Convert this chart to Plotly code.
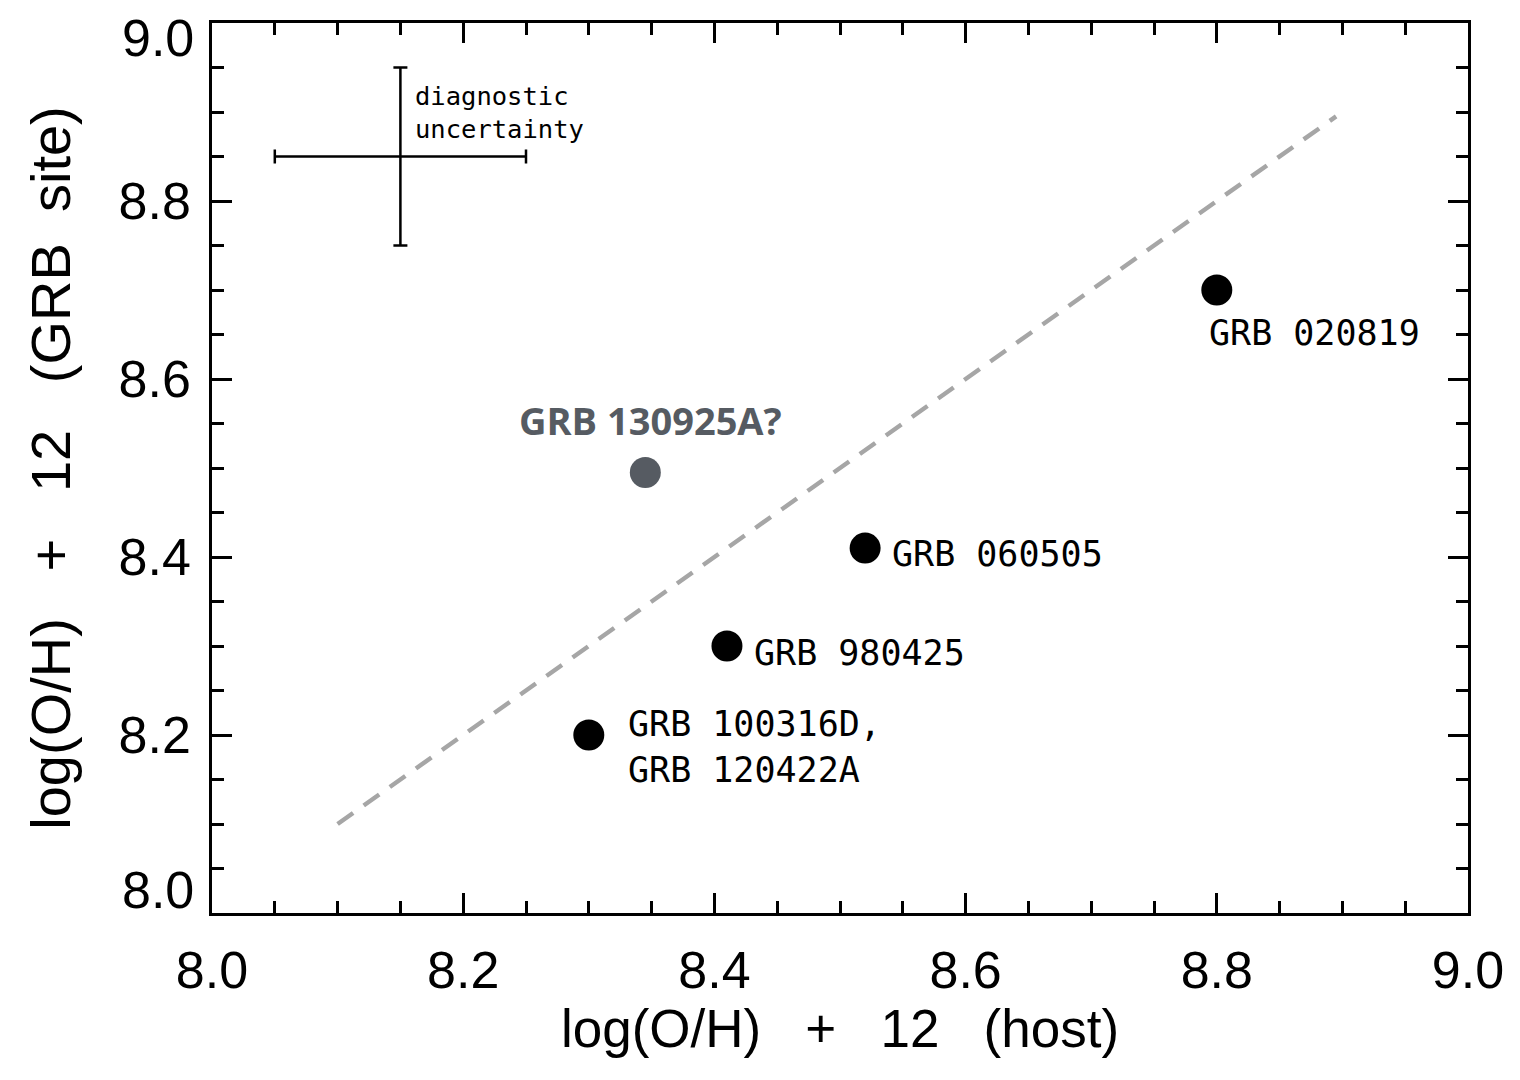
import plotly.graph_objects as go

# measured GRBs: host vs. GRB-site metallicity
grb_names = ["GRB 020819", "GRB 060505", "GRB 980425", "GRB 100316D,<br>GRB 120422A"]
oh_host = [8.80, 8.52, 8.41, 8.30]
oh_site = [8.70, 8.41, 8.30, 8.20]

# candidate
cand_name = "GRB 130925A?"
cand_host = [8.345]
cand_site = [8.495]

# 1:1 relation
one_to_one = [8.10, 8.895]

# diagnostic uncertainty cross
diag_x = [8.15]
diag_y = [8.85]
diag_err = [0.1]

tick_vals = [8.0, 8.2, 8.4, 8.6, 8.8, 9.0]
tick_text = ["8.0", "8.2", "8.4", "8.6", "8.8", "9.0"]

AX_FONT = "Liberation Sans"
LBL_FONT = "DejaVu Sans Mono"

fig = go.Figure()

fig.add_trace(go.Scatter(
    x=one_to_one, y=one_to_one, mode="lines",
    line=dict(color="#a6a6a6", width=4.5, dash="19px,13px"),
    hoverinfo="skip"))

fig.add_trace(go.Scatter(
    x=diag_x, y=diag_y, mode="markers",
    marker=dict(size=1, color="black", opacity=0),
    error_x=dict(type="data", array=diag_err, color="black", thickness=2.5, width=7),
    error_y=dict(type="data", array=diag_err, color="black", thickness=2.5, width=7)))

fig.add_trace(go.Scatter(
    x=oh_host, y=oh_site, mode="markers",
    marker=dict(size=31, color="black")))

fig.add_trace(go.Scatter(
    x=cand_host, y=cand_site, mode="markers",
    marker=dict(size=31, color="#565b62")))

# labels next to the points
lbl_x = [8.792, 8.540, 8.430, 8.330]
lbl_y = [8.652, 8.403, 8.292, 8.186]
for name, lx, ly in zip(grb_names, lbl_x, lbl_y):
    fig.add_annotation(x=lx, y=ly, text=name, showarrow=False,
                       xanchor="left", yanchor="middle", align="left",
                       font=dict(family=LBL_FONT, size=35, color="black"))

fig.add_annotation(x=8.243, y=8.554, text="<b>" + cand_name + "</b>", showarrow=False,
                   xanchor="left", yanchor="middle",
                   font=dict(family="Open Sans", size=38, color="#565b62"))

fig.add_annotation(x=8.160, y=8.899, text="diagnostic<br>uncertainty", showarrow=False,
                   xanchor="left", yanchor="middle", align="left",
                   font=dict(family=LBL_FONT, size=25.5, color="black"))

# end labels of the y axis sit inside the frame, as in the original
fig.add_annotation(xref="paper", x=0, xshift=-16, xanchor="right",
                   y=tick_vals[0], yanchor="bottom", yshift=-8,
                   text=tick_text[0], showarrow=False,
                   font=dict(family=AX_FONT, size=52, color="black"))
fig.add_annotation(xref="paper", x=0, xshift=-16, xanchor="right",
                   y=tick_vals[-1], yanchor="top", yshift=16,
                   text=tick_text[-1], showarrow=False,
                   font=dict(family=AX_FONT, size=52, color="black"))

axis_common = dict(
    range=[8.0, 9.0], tickmode="array", tickvals=tick_vals,
    ticks="inside", ticklen=20, tickwidth=2.5, tickcolor="black",
    minor=dict(dtick=0.05, tick0=8.0, ticks="inside", ticklen=12, tickwidth=2.5,
               tickcolor="black"),
    showline=True, linewidth=2.5, linecolor="black", mirror="ticks",
    showgrid=False, zeroline=False,
    tickfont=dict(family=AX_FONT, size=52, color="black"),
)

fig.update_xaxes(**axis_common, ticktext=tick_text, ticklabelstandoff=10,
                 ticklabeloverflow="allow",
                 title=dict(text="log(O/H)   +   12   (host)", standoff=8,
                            font=dict(family=AX_FONT, size=53, color="black")))
fig.update_yaxes(**axis_common, ticktext=[""] + tick_text[1:-1] + [""], ticklabelstandoff=8,
                 title=dict(text="log(O/H)   +   12   (GRB  site)", standoff=30,
                            font=dict(family=AX_FONT, size=56, color="black")))

fig.update_layout(
    width=1508, height=1064,
    margin=dict(l=204, r=40, t=12, b=159),
    plot_bgcolor="white", paper_bgcolor="white",
    showlegend=False,
)

fig.write_html("out.html")
